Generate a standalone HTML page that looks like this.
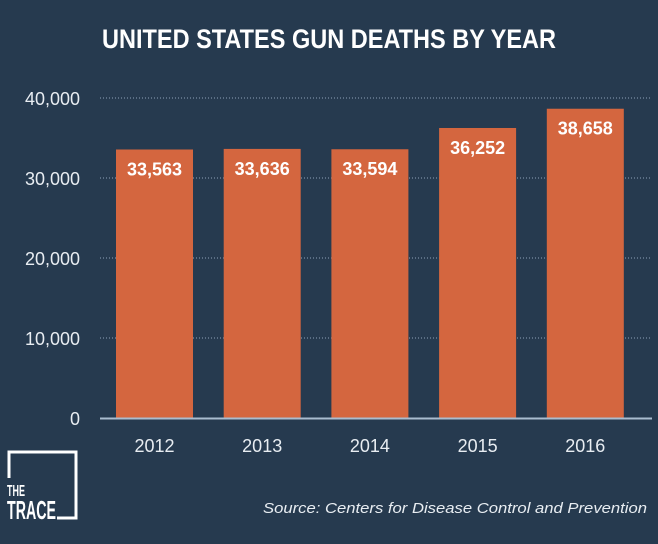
<!DOCTYPE html>
<html><head><meta charset="utf-8"><style>
body{margin:0;background:#263a4f;width:658px;height:539px;overflow:hidden;font-family:"Liberation Sans",sans-serif}
</style></head><body>
<svg width="658" height="539">
<rect width="658" height="539" fill="#263a4f"/>
<text x="329" y="48" text-anchor="middle" fill="#fff" font-size="27" font-weight="bold" textLength="454" lengthAdjust="spacingAndGlyphs">UNITED STATES GUN DEATHS BY YEAR</text>
<g id="grid"></g><g id="bars"></g>
<g>
<path d="M9 478 V452 H76 V518 H57" fill="none" stroke="#fff" stroke-width="3"/>
<text x="7" y="496" fill="#fff" font-size="16" font-weight="bold" textLength="18" lengthAdjust="spacingAndGlyphs">THE</text>
<text x="7" y="519" fill="#fff" font-size="26" font-weight="bold" textLength="49" lengthAdjust="spacingAndGlyphs">TRACE</text>
</g>
<text x="647" y="513" text-anchor="end" fill="#e8edf2" font-size="15" font-style="italic" textLength="384" lengthAdjust="spacingAndGlyphs">Source: Centers for Disease Control and Prevention</text>
</svg>
<script>
const years=["2012","2013","2014","2015","2016"];
const deaths=[33563,33636,33594,36252,38658];
const ticks=[0,10000,20000,30000,40000];
const tickLabels=["0","10,000","20,000","30,000","40,000"];
const ns="http://www.w3.org/2000/svg";
const y=v=>418-v*0.008;
const x=i=>116+i*107.7;
const g=document.getElementById('grid'),b=document.getElementById('bars');
function mk(t,a,p,txt){const e=document.createElementNS(ns,t);for(const k in a)e.setAttribute(k,a[k]);if(txt!==undefined)e.textContent=txt;p.appendChild(e);return e;}
ticks.forEach((t,i)=>{
 if(t>0){const l=mk('line',{x1:100,x2:652,y1:y(t),y2:y(t),stroke:'#8fa3b8','stroke-dasharray':'1 2','stroke-width':1},g);
 
 }
 const tx=mk('text',{x:80,y:y(t)+7,'text-anchor':'end',fill:'#e8edf2','font-size':18},g,tickLabels[i]);
 
 
});
deaths.forEach((d,i)=>{
 const r=mk('rect',{x:x(i),y:y(d),width:77,height:418-y(d),fill:'#d4663f'},b);
 
 
 const v=mk('text',{x:x(i)+38.5,y:y(d)+26,'text-anchor':'middle',fill:'#fff','font-size':18,'font-weight':'bold'},b,d.toLocaleString('en-US'));
 
 
 const c=mk('text',{x:x(i)+38.5,y:452,'text-anchor':'middle',fill:'#e8edf2','font-size':18},b,years[i]);
 
 
});
const ax=mk('line',{x1:100,x2:652,y1:418.5,y2:418.5,stroke:'#a9bccf','stroke-width':2},b);


</script>
</body></html>
